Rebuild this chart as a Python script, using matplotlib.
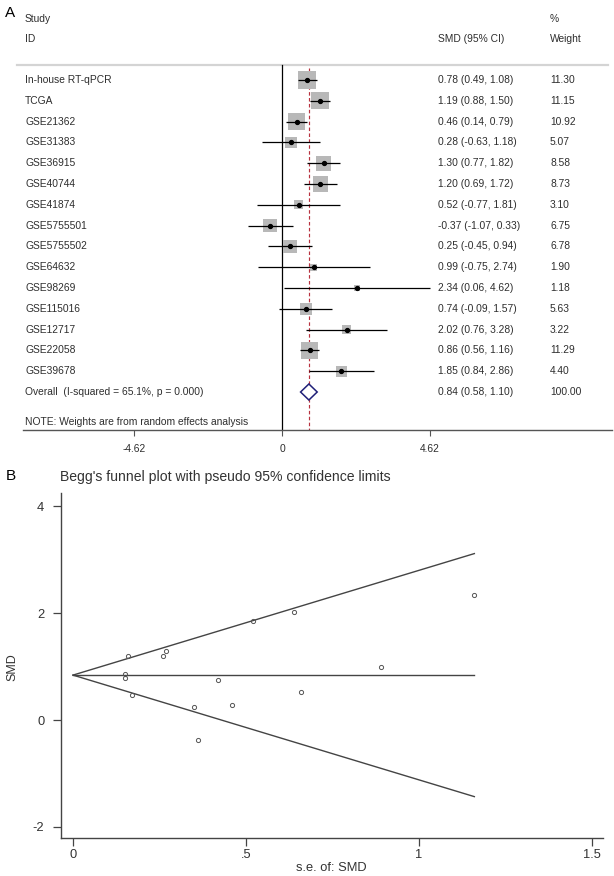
"""
Forest plot (SMD, random effects) and Begg's funnel plot.
"""
import matplotlib.pyplot as plt
import numpy as np

plt.rcParams['font.family'] = ['Liberation Sans', 'DejaVu Sans']
plt.rcParams['axes.unicode_minus'] = False

studies = ["In-house RT-qPCR", "TCGA", "GSE21362", "GSE31383", "GSE36915",
           "GSE40744", "GSE41874", "GSE5755501", "GSE5755502", "GSE64632",
           "GSE98269", "GSE115016", "GSE12717", "GSE22058", "GSE39678"]
smd = [0.78, 1.19, 0.46, 0.28, 1.30, 1.20, 0.52, -0.37, 0.25, 0.99,
       2.34, 0.74, 2.02, 0.86, 1.85]
ci_low = [0.49, 0.88, 0.14, -0.63, 0.77, 0.69, -0.77, -1.07, -0.45, -0.75,
          0.06, -0.09, 0.76, 0.56, 0.84]
ci_high = [1.08, 1.50, 0.79, 1.18, 1.82, 1.72, 1.81, 0.33, 0.94, 2.74,
           4.62, 1.57, 3.28, 1.16, 2.86]
weights = [11.30, 11.15, 10.92, 5.07, 8.58, 8.73, 3.10, 6.75, 6.78, 1.90,
           1.18, 5.63, 3.22, 11.29, 4.40]
pooled, pooled_low, pooled_high = 0.84, 0.58, 1.10
overall_label = "Overall  (I-squared = 65.1%, p = 0.000)"
note = "NOTE: Weights are from random effects analysis"
forest_ticks = [-4.62, 0, 4.62]

# standard errors
se = [0.15, 0.16, 0.17, 0.46, 0.27, 0.26, 0.66, 0.36, 0.35, 0.89,
      1.16, 0.42, 0.64, 0.15, 0.52]
se_max = 1.16
funnel_xticks = [0, 0.5, 1, 1.5]
funnel_xlabels = ["0", ".5", "1", "1.5"]
funnel_yticks = [-2, 0, 2, 4]

W, H = 614, 876
txt = "#2e2e2e"
fs = 7.4

fig = plt.figure(figsize=(W / 100, H / 100), dpi=100)

# ---------------- panel A: forest plot ----------------
ax = fig.add_axes([23 / W, (H - 430) / H, (612 - 23) / W, 430 / H])
ax.set_xlim(-8.094, 10.3125)
ax.set_ylim(16.827, -3.846)
for s in ["top", "right", "left"]:
    ax.spines[s].set_visible(False)
ax.spines["bottom"].set_color("#555555")
ax.spines["bottom"].set_linewidth(1.0)
ax.set_yticks([])
ax.set_xticks(forest_ticks)
ax.set_xticklabels(["-4.62", "0", "4.62"])
ax.tick_params(axis="x", length=4, width=0.8, color="#555555",
               labelsize=7.4, labelcolor=txt, pad=6)

n = len(studies)
rows = np.arange(n)

ax.plot([-8.28, 10.19], [-0.72, -0.72], color="#d4d4d4", lw=1.6, clip_on=False)
ax.plot([0, 0], [-0.72, 16.827], color="black", lw=0.9)
ax.plot([pooled, pooled], [-0.6, 16.827], color="#b8323f", lw=0.85,
        dashes=(3, 2))

ax.scatter(smd, rows, s=np.array(weights) * 155 / 11.3, marker="s",
           color="#b8b8b8", lw=0, zorder=2)
ax.hlines(rows, ci_low, ci_high, color="black", lw=0.9, zorder=3)
ax.plot(smd, rows, "o", color="black", ms=2.8, zorder=4)

dh = 0.385
ax.fill([pooled_low, pooled, pooled_high, pooled, pooled_low],
        [n, n - dh, n, n + dh, n], facecolor="white", edgecolor="#1f1f78",
        lw=1.1, zorder=4)

x_lab, x_ci, x_w = -8.03, 4.875, 8.375
ax.text(x_lab, -2.93, "Study", fontsize=fs, color=txt, va="center")
ax.text(x_lab, -1.97, "ID", fontsize=fs, color=txt, va="center")
ax.text(x_ci, -1.97, "SMD (95% CI)", fontsize=fs, color=txt, va="center")
ax.text(x_w, -2.93, "%", fontsize=fs, color=txt, va="center")
ax.text(x_w, -1.97, "Weight", fontsize=fs, color=txt, va="center")

for i in range(n):
    ax.text(x_lab, i, studies[i], fontsize=fs, color=txt, va="center")
    ax.text(x_ci, i, f"{smd[i]:.2f} ({ci_low[i]:.2f}, {ci_high[i]:.2f})",
            fontsize=fs, color=txt, va="center")
    ax.text(x_w, i, f"{weights[i]:.2f}", fontsize=fs, color=txt, va="center")
ax.text(x_lab, n, overall_label, fontsize=fs, color=txt, va="center")
ax.text(x_ci, n, f"{pooled:.2f} ({pooled_low:.2f}, {pooled_high:.2f})",
        fontsize=fs, color=txt, va="center")
ax.text(x_w, n, "100.00", fontsize=fs, color=txt, va="center")
ax.text(x_lab, 16.46, note, fontsize=fs, color=txt, va="center")

fig.text(10 / W, 1 - 13 / H, "A", fontsize=11, ha="center", va="center")

# ---------------- panel B: funnel plot ----------------
bx = fig.add_axes([60.7 / W, (H - 837.7) / H, (603 - 60.7) / W, (837.7 - 493) / H])
bx.set_xlim(-0.0355, 1.5318)
bx.set_ylim(-2.202, 4.247)
for s in ["top", "right"]:
    bx.spines[s].set_visible(False)
for s in ["left", "bottom"]:
    bx.spines[s].set_color("#444444")
    bx.spines[s].set_linewidth(1.0)
bx.set_xticks(funnel_xticks)
bx.set_xticklabels(funnel_xlabels)
bx.set_yticks(funnel_yticks)
bx.tick_params(length=5.8, width=0.9, color="#444444", labelsize=9.3,
               labelcolor="#333333")
bx.tick_params(axis="x", pad=2)
bx.tick_params(axis="y", pad=6)

z = 1.96
bx.plot([0, se_max], [pooled, pooled + z * se_max], color="#444444", lw=1.0)
bx.plot([0, se_max], [pooled, pooled - z * se_max], color="#444444", lw=1.0)
bx.plot([0, se_max], [pooled, pooled], color="#444444", lw=1.0)
bx.plot(se, smd, "o", mfc="none", mec="#555555", ms=3, mew=0.7)

fig.text(10.5 / W, 1 - 476 / H, "B", fontsize=11, ha="center", va="center")
fig.text(60 / W, 1 - 477 / H,
         "Begg's funnel plot with pseudo 95% confidence limits",
         fontsize=10.1, color="#333333", va="center")
fig.text(12 / W, 1 - 667 / H, "SMD", fontsize=9, color="#333333",
         rotation=90, ha="center", va="center")
fig.text(331.8 / W, 1 - 868 / H, "s.e. of: SMD", fontsize=9.3,
         color="#333333", ha="center", va="center")

fig.savefig("out.png", dpi=100)
